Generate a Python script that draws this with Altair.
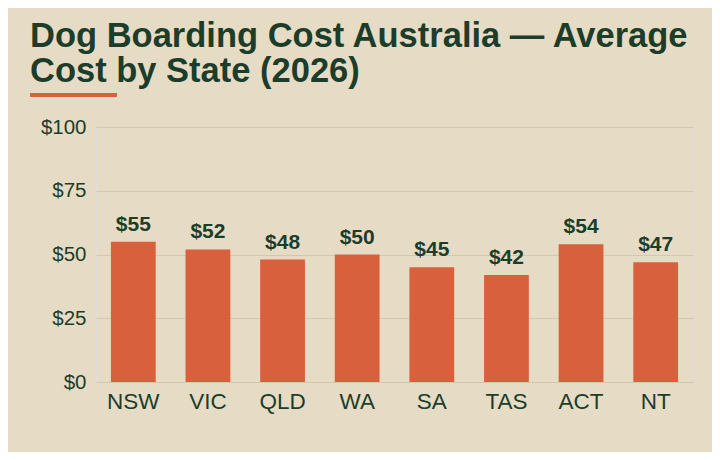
import altair as alt
import pandas as pd

states = ["NSW", "VIC", "QLD", "WA", "SA", "TAS", "ACT", "NT"]
avg_cost = [55, 52, 48, 50, 45, 42, 54, 47]

BG = "#e6dcc5"
BAR = "#d9603d"
INK = "#1d3d2b"
GRID = "#d3c8ab"

df = pd.DataFrame({"state": states, "cost": avg_cost})
df["label"] = ["$" + str(v) for v in avg_cost]

base = alt.Chart(df).encode(
    x=alt.X(
        "state:N",
        sort=states,
        title=None,
        scale=alt.Scale(paddingInner=0.4, paddingOuter=0.2),
        axis=alt.Axis(labelAngle=0, labelFontSize=22.5, labelColor=INK, labelPadding=8,
                      domain=False, ticks=False, grid=False),
    ),
    y=alt.Y(
        "cost:Q",
        title=None,
        scale=alt.Scale(domain=[0, 100], nice=False),
        axis=alt.Axis(values=[0, 25, 50, 75, 100], labelExpr="'$' + datum.value",
                      labelFontSize=20.5, labelColor=INK, labelPadding=10,
                      domain=False, ticks=False, gridColor=GRID, gridWidth=1),
    ),
)

bars = base.mark_bar(color=BAR)
labels = base.mark_text(baseline="bottom", dy=-7, fontSize=21, fontWeight="bold", color=INK).encode(
    text="label:N"
)

# accent line under the title
accent = alt.Chart(pd.DataFrame({"k": [0]})).mark_rect(color=BAR).encode(
    x=alt.value(-66), x2=alt.value(21), y=alt.value(-34), y2=alt.value(-30)
)

chart = (
    alt.layer(bars, labels, accent)
    .properties(
        width=597,
        height=255,
        background=BG,
        padding={"left": 88, "top": 119, "right": 19, "bottom": 70},
        autosize=alt.AutoSizeParams(type="none"),
        title=alt.TitleParams(
            ["Dog Boarding Cost Australia — Average", "Cost by State (2026)"],
            anchor="start",
            frame="group",
            dx=-66,
            offset=4,
            fontSize=34.5,
            lineHeight=35,
            font="Liberation Sans",
            fontWeight="bold",
            color=INK,
        ),
    )
    .configure_view(stroke=None)
    .configure(font="Liberation Sans")
)

chart.save("out.html", embed_options={"renderer": "svg", "actions": False})
